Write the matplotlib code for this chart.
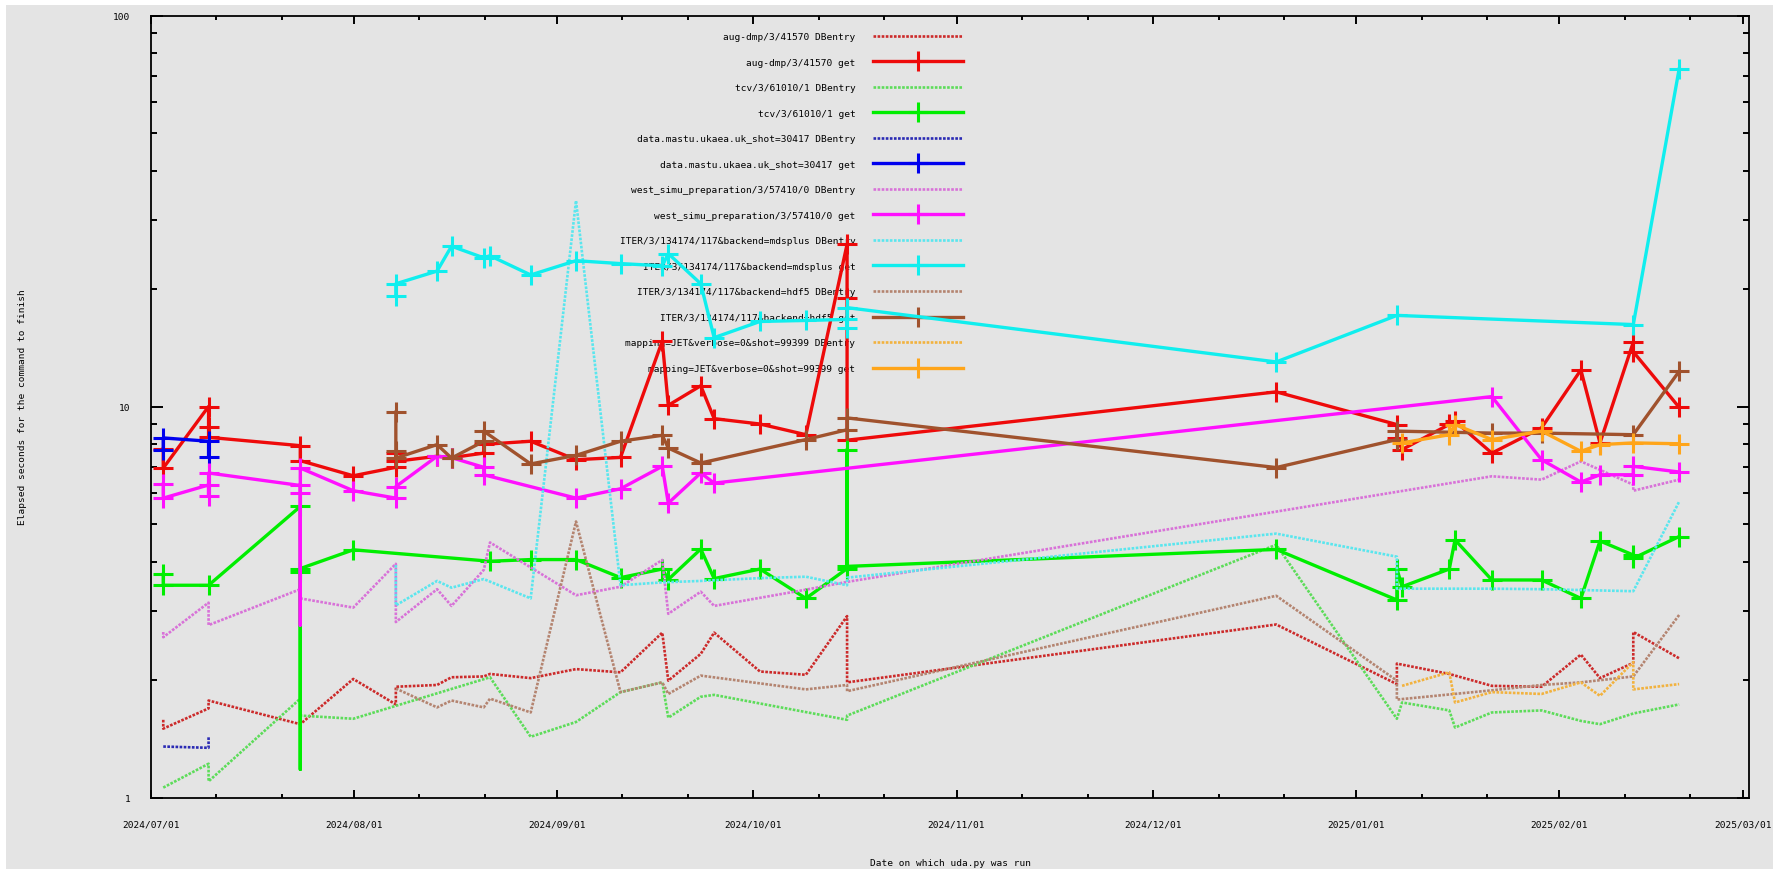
import matplotlib
matplotlib.use('Agg')
import matplotlib.pyplot as plt
import matplotlib.dates as mdates
from matplotlib.ticker import LogLocator, NullFormatter, FixedLocator, FixedFormatter
from matplotlib.patches import Rectangle
import pandas as pd

# ---- run dates (when uda.py was run) ----
A = "2024-07-02 22:00"; B = "2024-07-09 20:00"; C = "2024-07-23 20:00"; D = "2024-07-31 22:00"
E = "2024-08-07 10:00"; F = "2024-08-13 17:00"; G = "2024-08-15 22:00"; H = "2024-08-20 20:00"
H2 = "2024-08-21 19:00"; I = "2024-08-28 00:00"; J = "2024-09-03 22:00"; K = "2024-09-10 17:00"
L = "2024-09-17 02:00"; M = "2024-09-18 00:00"; N = "2024-09-22 23:00"; O = "2024-09-25 00:00"
P = "2024-10-02 00:00"; Q = "2024-10-09 00:00"; R = "2024-10-15 07:00"; S = "2024-12-19 19:00"
T = "2025-01-07 05:00"; T2 = "2025-01-08 00:00"; U = "2025-01-15 05:00"; U2 = "2025-01-16 02:00"
V = "2025-01-21 17:00"; W = "2025-01-29 07:00"; X = "2025-02-04 07:00"; Y = "2025-02-07 05:00"
Z = "2025-02-12 07:00"; Z2 = "2025-02-19 07:00"

aug_db_dates = [A, A, B, B, C, D, E, E, F, G, H, H2, I, J, K, L, M, N, O, P, Q, R, R, S, T, T, U, V, W, X, Y, Z, Z, Z2]
aug_db_vals = [1.58, 1.50, 1.69, 1.77, 1.54, 2.01, 1.73, 1.92, 1.94, 2.03, 2.04, 2.07, 2.02, 2.13, 2.09, 2.64, 1.99,
               2.33, 2.64, 2.10, 2.06, 2.91, 1.97, 2.77, 1.95, 2.20, 2.07, 1.93, 1.92, 2.32, 2.02, 2.21, 2.65, 2.27]

aug_get_dates = [A, A, B, B, B, C, C, D, E, E, E, F, G, H, H, I, J, K, L, M, N, O, P, Q, R, R, R, S, T, T, T2,
                 U, U2, V, W, X, Y, Z, Z, Z2]
aug_get_vals = [7.79, 6.96, 10.0, 8.85, 8.34, 7.94, 7.27, 6.65, 6.99, 7.60, 7.24, 7.46, 7.40, 7.60, 8.00, 8.15,
                7.31, 7.41, 14.7, 10.07, 11.3, 9.31, 9.02, 8.47, 26.0, 19.0, 8.2, 10.9, 8.99, 8.31, 7.76,
                9.0, 9.17, 7.60, 8.82, 12.4, 8.07, 14.6, 13.8, 9.95]

tcv_db_dates = [A, B, B, C, C, D, H2, I, J, K, L, M, N, O, R, R, S, T, T2, U, U2, V, W, X, Y, Z, Z2]
tcv_db_vals = [1.06, 1.22, 1.10, 1.79, 1.62, 1.59, 2.03, 1.43, 1.56, 1.86, 1.97, 1.60, 1.81, 1.83, 1.58, 1.62,
               4.43, 1.59, 1.75, 1.67, 1.51, 1.65, 1.67, 1.57, 1.54, 1.64, 1.73]

tcv_get_dates = [A, A, B, C, C, C, C, D, H2, I, J, K, L, M, N, O, P, Q, R, R, R, S, T, T, T2, U, U2, V, W, X,
                 Y, Z, Z, Z2]
tcv_get_vals = [3.72, 3.49, 3.49, 5.55, 1.18, 3.78, 3.85, 4.30, 4.02, 4.06, 4.06, 3.65, 3.84, 3.61, 4.32, 3.63,
                3.84, 3.23, 3.85, 7.76, 3.90, 4.31, 3.20, 3.85, 3.46, 3.84, 4.56, 3.60, 3.60, 3.23, 4.53,
                4.17, 4.09, 4.65]
tcv_get_unmarked = [4]

mastu_db_dates = [A, B, B]
mastu_db_vals = [1.35, 1.34, 1.43]

mastu_get_dates = [A, A, B, B]
mastu_get_vals = [7.76, 8.31, 8.15, 7.42]

west_db_dates = [A, A, B, B, C, C, D, E, E, F, G, H, H2, J, K, L, M, N, O, Q, R, V, W, X, Z, Z, Z2]
west_db_vals = [2.65, 2.57, 3.15, 2.76, 3.41, 3.23, 3.06, 3.96, 2.81, 3.41, 3.09, 3.82, 4.49, 3.29, 3.46, 4.05,
                2.95, 3.36, 3.09, 3.40, 3.56, 6.63, 6.50, 7.24, 6.31, 6.09, 6.50]

west_get_dates = [A, A, B, B, B, C, C, C, C, D, E, E, F, G, H, H, J, K, L, M, N, O, V, W, X, Y, Z, Z, Z2]
west_get_vals = [6.33, 5.83, 6.30, 5.89, 6.76, 6.28, 6.00, 2.76, 6.96, 6.09, 5.83, 6.24, 7.46, 7.40, 6.99, 6.69,
                 5.83, 6.16, 7.03, 5.66, 6.76, 6.37, 10.6, 7.31, 6.41, 6.69, 6.69, 7.03, 6.80]
west_get_unmarked = [7]

mds_db_dates = [E, E, F, G, H, I, J, K, L, N, P, Q, R, R, S, T, T, V, W, Z, Z2]
mds_db_vals = [3.93, 3.10, 3.58, 3.44, 3.62, 3.23, 33.6, 3.49, 3.55, 3.58, 3.64, 3.67, 3.49, 3.65, 4.73, 4.13,
               3.42, 3.42, 3.41, 3.37, 5.71]

mds_get_dates = [E, E, F, G, H, H2, I, J, K, L, M, N, O, P, Q, R, R, R, S, T, Z, Z2]
mds_get_vals = [19.2, 20.6, 22.2, 25.7, 24.0, 24.3, 21.7, 23.6, 23.2, 22.9, 24.6, 20.6, 15.0, 16.5, 16.6, 16.7,
                15.9, 17.9, 13.0, 17.1, 16.2, 73.0]

hdf5_db_dates = [E, F, G, H, H2, I, J, K, L, M, N, Q, R, R, S, T, T, V, W, X, Z, Z2]
hdf5_db_vals = [1.90, 1.70, 1.77, 1.70, 1.79, 1.65, 5.08, 1.86, 1.97, 1.84, 2.05, 1.89, 1.94, 1.87, 3.28, 1.99,
                1.78, 1.88, 1.94, 1.97, 2.04, 2.93]

hdf5_get_dates = [E, E, E, F, G, H, H, I, J, K, L, M, N, Q, R, R, S, T, T, V, W, Z, Z2]
hdf5_get_vals = [9.67, 7.68, 7.38, 7.99, 7.38, 8.15, 8.65, 7.13, 7.50, 8.15, 8.44, 7.83, 7.17, 8.23, 8.72, 9.35,
                 6.98, 8.23, 8.65, 8.55, 8.55, 8.47, 12.3]

jet_db_dates = [T2, U, U2, V, W, X, Y, Z, Z, Z2]
jet_db_vals = [1.93, 2.09, 1.75, 1.86, 1.84, 1.97, 1.82, 2.22, 1.89, 1.95]

jet_get_dates = [T2, U, U2, V, W, X, Y, Z, Z2]
jet_get_vals = [8.07, 8.47, 8.99, 8.23, 8.65, 7.68, 7.99, 8.07, 8.03]

series_labels = [
    "aug-dmp/3/41570 DBentry", "aug-dmp/3/41570 get",
    "tcv/3/61010/1 DBentry", "tcv/3/61010/1 get",
    "data.mastu.ukaea.uk_shot=30417 DBentry", "data.mastu.ukaea.uk_shot=30417 get",
    "west_simu_preparation/3/57410/0 DBentry", "west_simu_preparation/3/57410/0 get",
    "ITER/3/134174/117&backend=mdsplus DBentry", "ITER/3/134174/117&backend=mdsplus get",
    "ITER/3/134174/117&backend=hdf5 DBentry", "ITER/3/134174/117&backend=hdf5 get",
    "mapping=JET&verbose=0&shot=99399 DBentry", "mapping=JET&verbose=0&shot=99399 get",
]
series_data = [
    (aug_db_dates, aug_db_vals, []), (aug_get_dates, aug_get_vals, []),
    (tcv_db_dates, tcv_db_vals, []), (tcv_get_dates, tcv_get_vals, tcv_get_unmarked),
    (mastu_db_dates, mastu_db_vals, []), (mastu_get_dates, mastu_get_vals, []),
    (west_db_dates, west_db_vals, []), (west_get_dates, west_get_vals, west_get_unmarked),
    (mds_db_dates, mds_db_vals, []), (mds_get_dates, mds_get_vals, []),
    (hdf5_db_dates, hdf5_db_vals, []), (hdf5_get_dates, hdf5_get_vals, []),
    (jet_db_dates, jet_db_vals, []), (jet_get_dates, jet_get_vals, []),
]
series_colors = ['#cc2a2a', '#ee0a0a', '#5ddc5a', '#00ee00', '#2a2ab4', '#0000ee',
                 '#d872d8', '#ff10ff', '#5ae6ee', '#10eeee', '#b48470', '#a0522d',
                 '#f2b23e', '#ffa51a']

ytick_vals = [1, 10, 100]
ytick_labels = ['1', '10', '100']
x_start, x_end = "2024-07-01", "2025-03-02"

FONT = 'DejaVu Sans Mono'
FS = 6.8
BG = '#e4e4e4'

fig = plt.figure(figsize=(17.73, 8.70), dpi=100, facecolor='white')
fig.patches.append(Rectangle((6 / 1773, 0), 1, 1 - 6 / 870, transform=fig.transFigure,
                             facecolor=BG, edgecolor='none', zorder=-10))
ax = fig.add_axes([150.7 / 1773, 1 - 798.5 / 870, (1749.3 - 150.7) / 1773, (798.5 - 16.5) / 870])
ax.set_facecolor(BG)

handles = []
for idx, ((dts, vals, unmarked), lab, col) in enumerate(zip(series_data, series_labels, series_colors)):
    x = pd.to_datetime(dts)
    if idx % 2 == 0:
        h, = ax.plot(x, vals, color=col, lw=1.9, ls=(0, (1, 0.55)), label=lab, zorder=2 + idx * 0.1)
    else:
        marks = [k for k in range(len(vals)) if k not in unmarked]
        h, = ax.plot(x, vals, color=col, lw=2.4, marker='+', ms=15, mew=2.2, label=lab,
                     markevery=marks, zorder=2 + idx * 0.1)
    handles.append(h)

ax.set_yscale('log')
ax.set_ylim(1, 100)
ax.set_xlim(pd.Timestamp(x_start), pd.Timestamp(x_end))
ax.yaxis.set_major_locator(FixedLocator(ytick_vals))
ax.yaxis.set_major_formatter(FixedFormatter(ytick_labels))
ax.yaxis.set_minor_locator(LogLocator(base=10, subs=[2, 3, 4, 5, 6, 7, 8, 9]))
ax.yaxis.set_minor_formatter(NullFormatter())
ax.xaxis.set_major_locator(mdates.MonthLocator())
ax.xaxis.set_major_formatter(mdates.DateFormatter('%Y/%m/%d'))
ax.xaxis.set_minor_locator(mdates.DayLocator(bymonthday=[11, 21]))

ax.tick_params(axis='both', which='both', direction='in', top=True, right=True, width=1.4,
               labelsize=FS, colors='black')
ax.tick_params(axis='x', which='major', length=5.5, pad=16)
ax.tick_params(axis='x', which='minor', length=2.7)
ax.tick_params(axis='y', which='major', length=8.5, pad=14.5)
ax.tick_params(axis='y', which='minor', length=4.5)
for lab in ax.get_xticklabels() + ax.get_yticklabels():
    lab.set_fontfamily(FONT)
for sp in ax.spines.values():
    sp.set_linewidth(1.3)

ax.set_xlabel("Date on which uda.py was run", fontfamily=FONT, fontsize=FS)
ax.xaxis.set_label_coords(0.5, -0.0774)
ax.set_ylabel("Elapsed seconds for the command to finish", fontfamily=FONT, fontsize=FS)
ax.yaxis.set_label_coords(-0.0772, 0.5)

leg = ax.legend(handles=handles, labels=series_labels, loc='upper right',
                bbox_to_anchor=(963 / 1773, 1 - 33 / 870), bbox_transform=fig.transFigure,
                frameon=False, markerfirst=False, handlelength=9.5, handletextpad=1.9,
                labelspacing=1.75, borderpad=0, borderaxespad=0, numpoints=1,
                prop={'family': FONT, 'size': FS})
leg.set_zorder(1)

fig.savefig('out.png', dpi=100, facecolor=fig.get_facecolor())
